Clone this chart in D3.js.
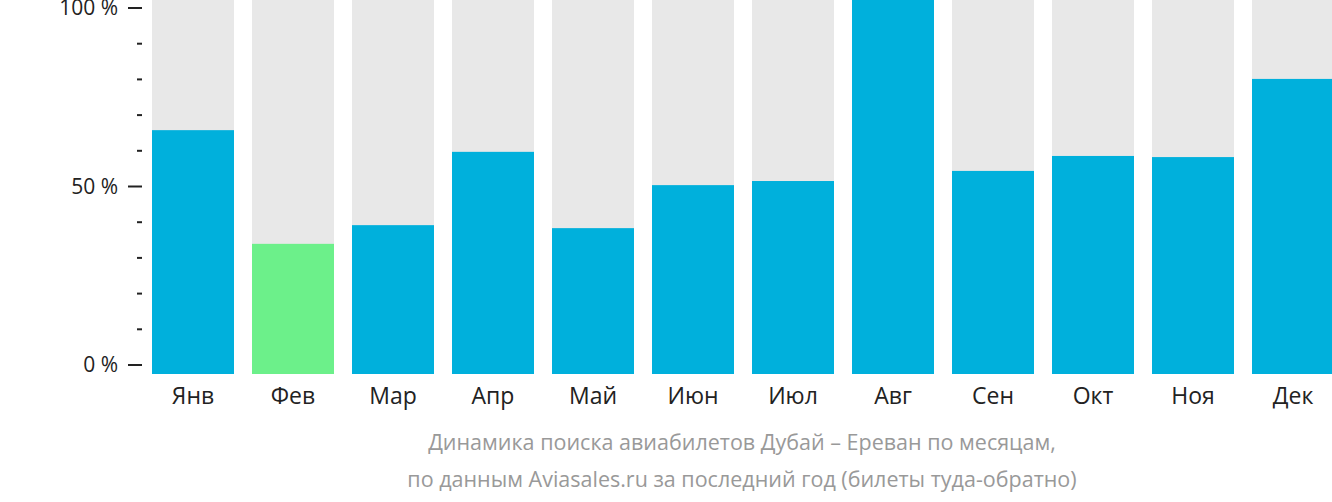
<!DOCTYPE html><html><head><meta charset="utf-8"><script src="https://d3js.org/d3.v7.min.js"></script>
<style>body{margin:0;background:#fff}svg{display:block;font-family:"Open Sans",sans-serif}</style></head><body><svg width="1332" height="502"></svg>
<script>
const months=["Янв","Фев","Мар","Апр","Май","Июн","Июл","Авг","Сен","Окт","Ноя","Дек"];
const values=[65.2,34.8,39.8,59.4,39.0,50.5,51.6,100,54.3,58.3,58.0,78.9];
const minIndex=1;
const tickLabels=[0,50,100];
const caption=["Динамика поиска авиабилетов Дубай – Ереван по месяцам,","по данным Aviasales.ru за последний год (билеты туда-обратно)"];
const svg=d3.select("svg");
const x=d3.scaleBand().domain(months).range([143,1343]).paddingInner(0.18).paddingOuter(0.09);
const yb=d3.scaleLinear().domain([0,100]).range([374,0]);
const ya=d3.scaleLinear().domain([0,100]).range([365,8]);
svg.selectAll(".bg").data(months).join("rect").attr("x",d=>x(d)).attr("y",0).attr("width",x.bandwidth()).attr("height",374).attr("fill","#e8e8e8");
svg.selectAll(".v").data(values).join("rect").attr("x",(d,i)=>x(months[i])).attr("y",d=>yb(d)).attr("width",x.bandwidth()).attr("height",d=>374-yb(d)).attr("fill",(d,i)=>i===minIndex?"#6cf08a":"#00b0dc");
const ticks=d3.range(0,101,10);
svg.selectAll(".t").data(ticks).join("line").attr("x1",d=>d%50===0?128:137).attr("x2",142).attr("y1",d=>ya(d)).attr("y2",d=>ya(d)).attr("stroke","#222").attr("stroke-width",2);
svg.selectAll(".tl").data(tickLabels).join("text").attr("x",118).attr("y",d=>ya(d)).attr("dy","0.35em").attr("text-anchor","end").attr("font-size",21).attr("fill","#222").text(d=>d+" %");
svg.selectAll(".ml").data(months).join("text").attr("x",d=>x(d)+x.bandwidth()/2).attr("y",404).attr("text-anchor","middle").attr("font-size",23).attr("fill","#222").text(d=>d);
svg.selectAll(".c").data(caption).join("text").attr("x",742).attr("y",(d,i)=>450+i*37).attr("text-anchor","middle").attr("font-size",21.5).attr("fill","#999").text(d=>d);
</script></body></html>
